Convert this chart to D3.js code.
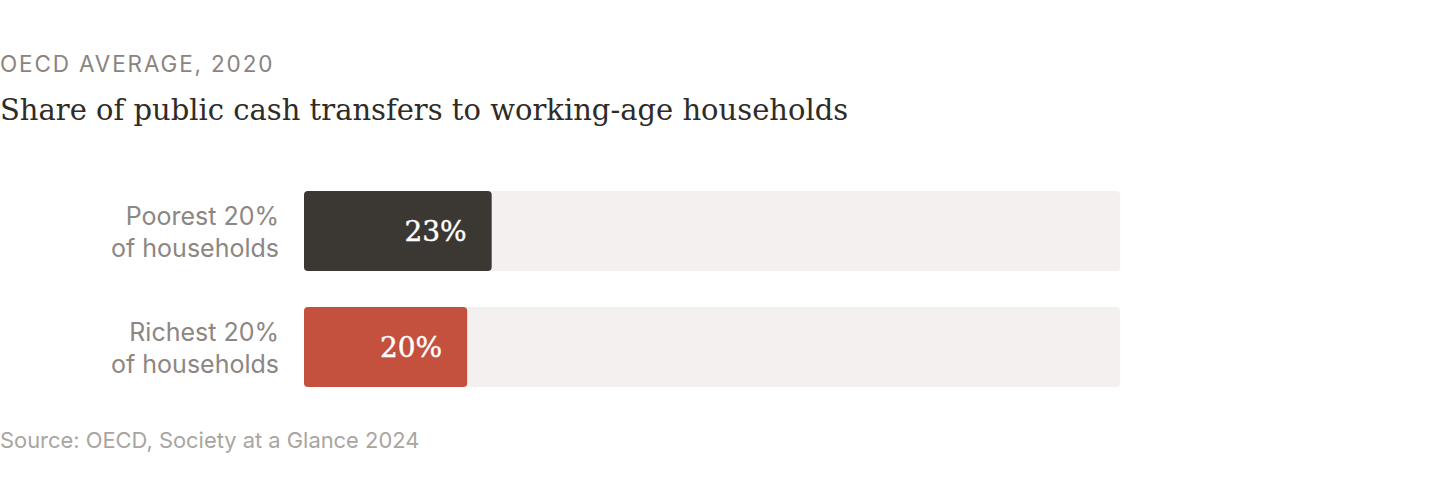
<!DOCTYPE html>
<html>
<head>
<meta charset="utf-8">
<script src="https://cdn.jsdelivr.net/npm/d3@7"></script>
<style>
  body { margin: 0; background: #fff; }
</style>
</head>
<body>
<script>
var width = 1440, height = 502;

var categories = ["Poorest 20%|of households", "Richest 20%|of households"];
var shares = [23, 20];
var barColors = ["#3b3733", "#c4503e"];
var kicker = "OECD AVERAGE, 2020";
var title = "Share of public cash transfers to working-age households";
var source = "Source: OECD, Society at a Glance 2024";

var svg = d3.select("body").append("svg").attr("width", width).attr("height", height);

// header
svg.append("text").attr("x", 0).attr("y", 72)
    .attr("font-family", "Inter, 'Noto Sans', sans-serif").attr("font-size", "22.5px")
    .attr("letter-spacing", "1.85px").attr("fill", "#8a847e")
    .text(kicker);
svg.append("text").attr("x", 0).attr("y", 120)
    .attr("font-family", "'DejaVu Serif', serif").attr("font-size", "29px")
    .attr("fill", "#2f2b27")
    .text(title);

// scales
var x = d3.scaleLinear().domain([0, 100]).range([304, 1120]);
var y = d3.scaleBand().domain(d3.range(categories.length)).range([191, 387]).paddingInner(0.31);

var rows = svg.selectAll("g.row").data(shares).enter().append("g").attr("class", "row");

// background track
rows.append("rect")
    .attr("x", x(0)).attr("y", function(d, i){ return y(i); })
    .attr("width", x(100) - x(0)).attr("height", y.bandwidth())
    .attr("rx", 4).attr("fill", "#f4f0ef");

// value bar
rows.append("rect")
    .attr("x", x(0)).attr("y", function(d, i){ return y(i); })
    .attr("width", function(d){ return x(d) - x(0); }).attr("height", y.bandwidth())
    .attr("rx", 4).attr("fill", function(d, i){ return barColors[i]; });

// value label
rows.append("text")
    .attr("x", function(d){ return x(d) - 25; })
    .attr("y", function(d, i){ return y(i) + y.bandwidth() / 2 + 10; })
    .attr("text-anchor", "end")
    .attr("font-family", "'DejaVu Serif', serif").attr("font-size", "28px")
    .attr("fill", "#fff").attr("stroke", "#fff").attr("stroke-width", 0.4)
    .text(function(d){ return d + "%"; });

// category labels (two lines)
rows.append("text")
    .attr("text-anchor", "end")
    .attr("font-family", "Inter, 'Noto Sans', sans-serif").attr("font-size", "25px")
    .attr("fill", "#8c8782")
    .each(function(d, i){
        var lines = categories[i].split("|");
        var t = d3.select(this);
        lines.forEach(function(line, k){
            t.append("tspan").attr("x", 279)
                .attr("y", y(i) + 34 + k * 32)
                .text(line);
        });
    });

// source
svg.append("text").attr("x", 0).attr("y", 448)
    .attr("font-family", "Inter, 'Noto Sans', sans-serif").attr("font-size", "21.9px")
    .attr("fill", "#a9a5a1")
    .text(source);
</script>
</body>
</html>
